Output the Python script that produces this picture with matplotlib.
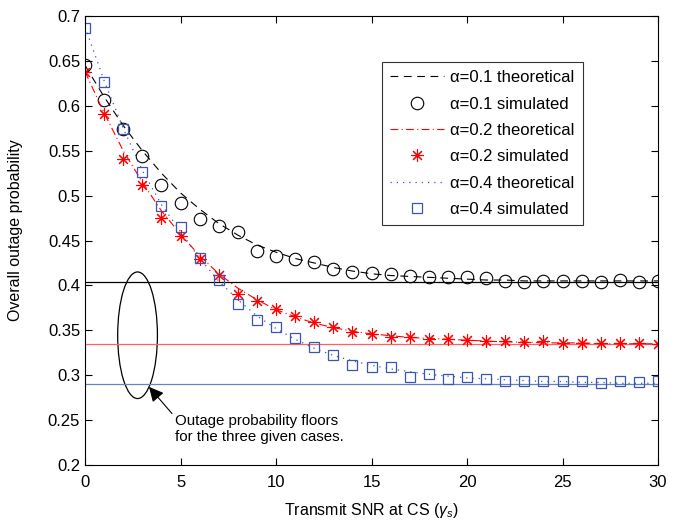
import numpy as np
import matplotlib
matplotlib.use('Agg')
import matplotlib.pyplot as plt
from matplotlib.patches import Ellipse

plt.rcParams['font.family'] = ['Liberation Sans', 'DejaVu Sans']
plt.rcParams['mathtext.fontset'] = 'custom'
plt.rcParams['mathtext.rm'] = 'Liberation Sans'
plt.rcParams['mathtext.it'] = 'Liberation Sans:italic'

snr = np.arange(0, 31)

# simulated values
sim_01 = [0.646, 0.607, 0.574, 0.544, 0.512, 0.492, 0.474, 0.466, 0.460, 0.438,
          0.433, 0.429, 0.426, 0.418, 0.415, 0.414, 0.413, 0.410, 0.409, 0.409,
          0.409, 0.408, 0.405, 0.404, 0.405, 0.405, 0.405, 0.404, 0.406, 0.404, 0.405]
sim_02 = [0.638, 0.591, 0.541, 0.512, 0.475, 0.455, 0.429, 0.412, 0.390, 0.383,
          0.374, 0.366, 0.359, 0.354, 0.348, 0.346, 0.343, 0.342, 0.340, 0.340,
          0.339, 0.338, 0.338, 0.337, 0.338, 0.336, 0.336, 0.336, 0.336, 0.336, 0.335]
sim_04 = [0.687, 0.626, 0.574, 0.526, 0.488, 0.465, 0.430, 0.406, 0.379, 0.361,
          0.354, 0.341, 0.331, 0.323, 0.311, 0.309, 0.309, 0.298, 0.301, 0.296,
          0.298, 0.296, 0.294, 0.294, 0.294, 0.294, 0.294, 0.291, 0.293, 0.292, 0.293]

# theoretical curves
th_01 = [0.645, 0.610, 0.578, 0.550, 0.525, 0.503, 0.485, 0.469, 0.456, 0.445,
         0.437, 0.430, 0.425, 0.420, 0.416, 0.413, 0.411, 0.410, 0.409, 0.408,
         0.407, 0.406, 0.406, 0.405, 0.405, 0.405, 0.405, 0.405, 0.405, 0.405, 0.405]
th_02 = [0.638, 0.592, 0.550, 0.515, 0.483, 0.457, 0.433, 0.413, 0.397, 0.384,
         0.373, 0.365, 0.358, 0.353, 0.349, 0.346, 0.344, 0.342, 0.341, 0.340,
         0.339, 0.338, 0.337, 0.337, 0.336, 0.336, 0.336, 0.335, 0.335, 0.335, 0.335]
th_04 = [0.688, 0.628, 0.575, 0.528, 0.490, 0.460, 0.430, 0.405, 0.384, 0.366,
         0.352, 0.340, 0.330, 0.322, 0.316, 0.311, 0.307, 0.304, 0.301, 0.299,
         0.297, 0.296, 0.295, 0.294, 0.293, 0.293, 0.292, 0.292, 0.291, 0.291, 0.291]

floors = [0.404, 0.335, 0.290]
floor_colors = ['black', '#ff6060', '#6a80c8']

red = '#ff0000'
blue = '#3a56b0'

fig = plt.figure(figsize=(6.77, 5.21), dpi=100)
ax = fig.add_axes([0.1256, 0.1075, 0.8464, 0.8617])

for f, c in zip(floors, floor_colors):
    ax.axhline(f, color=c, lw=0.9)

ax.plot(snr, th_01, color='black', ls=(0, (7, 5)), lw=0.8, label='α=0.1 theoretical')
ax.plot(snr, sim_01, ls='none', marker='o', mfc='none', mec='black', ms=9, mew=0.8,
        label='α=0.1 simulated')
ax.plot(snr, th_02, color=red, ls=(0, (7, 3, 1, 3)), lw=0.8, label='α=0.2 theoretical')
ax.plot(snr, sim_02, ls='none', marker=(8, 2, 0), mec=red, ms=9, mew=0.8,
        label='α=0.2 simulated')
ax.plot(snr, th_04, color=blue, ls=(0, (1, 4)), lw=0.9, label='α=0.4 theoretical')
ax.plot(snr, sim_04, ls='none', marker='s', mfc='none', mec=blue, ms=7.5, mew=0.9,
        label='α=0.4 simulated')

ax.add_patch(Ellipse((2.75, 0.3445), 2.08, 0.141, fill=False, ec='black', lw=0.9))
ax.annotate('Outage probability floors\nfor the three given cases.',
            xy=(3.35, 0.287), xytext=(4.7, 0.257), fontsize=10.8, va='top',
            arrowprops=dict(arrowstyle='-|>', color='black', lw=0.8,
                            mutation_scale=22, shrinkA=0, shrinkB=0,
                            relpos=(0, 0.9)))

ax.set_xlim(0, 30)
ax.set_ylim(0.2, 0.7)
ax.set_xticks(range(0, 31, 5))
ax.set_yticks(np.arange(0.2, 0.701, 0.05))
ax.set_yticklabels(['0.2', '0.25', '0.3', '0.35', '0.4', '0.45', '0.5', '0.55',
                    '0.6', '0.65', '0.7'])
ax.tick_params(direction='in', top=True, right=True, labelsize=12, length=5)
ax.tick_params(axis='x', pad=7)
ax.set_xlabel(r'Transmit SNR at CS ($\gamma_s$)', fontsize=11.5, labelpad=8)
ax.set_ylabel('Overall outage probability', fontsize=11.5)
ax.yaxis.set_label_coords(-0.108, 0.523)

leg = ax.legend(loc='upper right', bbox_to_anchor=(0.869, 0.898), fontsize=12,
                frameon=True, fancybox=False, edgecolor='black', handlelength=3.2,
                handletextpad=0.4, labelspacing=0.68, borderpad=0.5,
                borderaxespad=0)
leg.get_frame().set_linewidth(0.8)

fig.savefig('out.png', dpi=100)
